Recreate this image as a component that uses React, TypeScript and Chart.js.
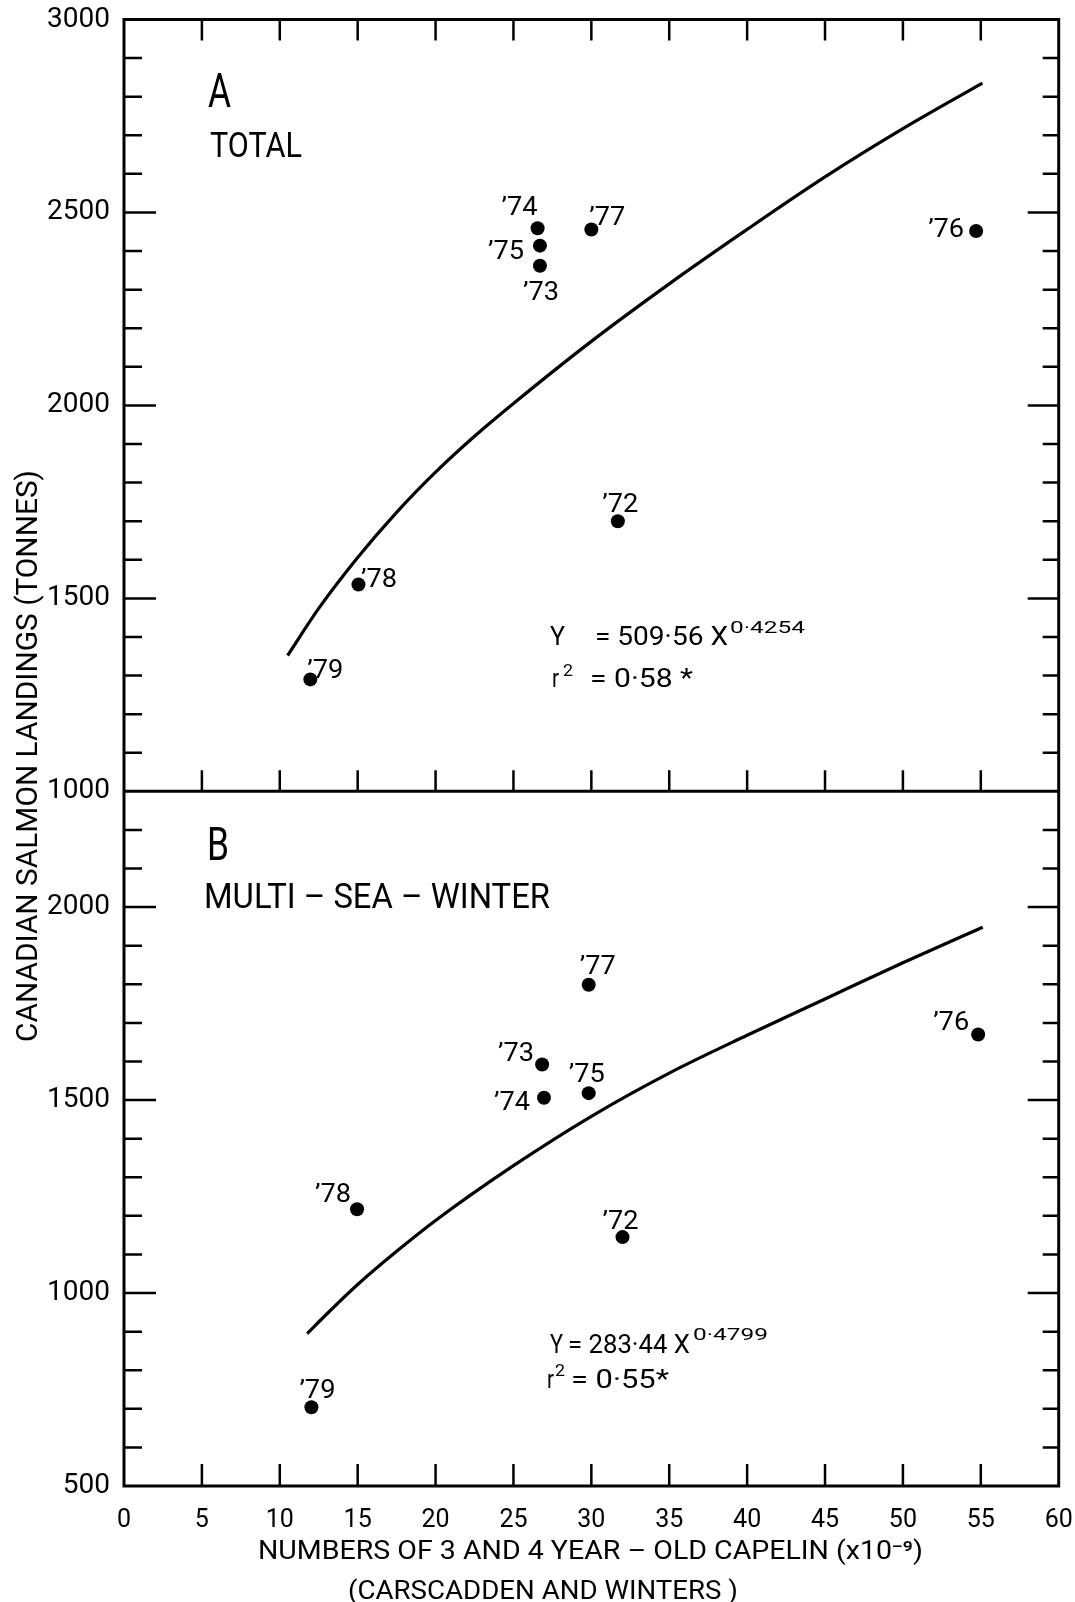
import React, { useEffect, useRef } from 'react';
import { Chart, registerables } from 'chart.js';

Chart.register(...registerables);

// ---------- data ----------
const YEARS = ['’72', '’73', '’74', '’75', '’76', '’77', '’78', '’79'];

// Panel A: total landings
const CAPELIN_A = [31.7, 26.7, 26.55, 26.7, 54.7, 30.0, 15.05, 11.96];
const TOTAL_LANDINGS = [1700, 2362, 2459, 2414, 2452, 2456, 1536, 1290];

// Panel B: multi-sea-winter landings
const CAPELIN_B = [32.0, 26.84, 26.96, 29.83, 54.83, 29.83, 14.96, 12.03];
const MSW_LANDINGS = [1145, 1592, 1506, 1518, 1670, 1799, 1217, 704];

// fitted curves as drawn in the figure
const FIT_A_X = [10.5, 12.5, 15, 17.5, 20, 22.5, 25, 30, 35, 40, 45, 50, 55.1];
const FIT_A_Y = [1352, 1474, 1606, 1723, 1827, 1920, 2005, 2166, 2315, 2456, 2592, 2717, 2835];
const FIT_B_X = [11.76, 13, 15, 17.5, 20, 25, 30, 35, 40, 45, 50, 55.12];
const FIT_B_Y = [895, 945, 1022, 1108, 1188, 1330, 1458, 1570, 1668, 1762, 1856, 1948];

// axes
const X_MIN = 0;
const X_MAX = 60;
const X_TICKS = [0, 5, 10, 15, 20, 25, 30, 35, 40, 45, 50, 55, 60];
const X_INNER_TICKS = [5, 10, 15, 20, 25, 30, 35, 40, 45, 50, 55];
const A_MIN = 1000;
const A_MAX = 3000;
const A_LABELS = [1000, 1500, 2000, 2500, 3000];
const B_MIN = 500;
const B_MAX = 2300;
const B_LABELS = [500, 1000, 1500, 2000];
const MAJOR_STEP = 500;
const MINOR_STEP = 100;

// label offsets (style) [dx, dy] from the dot centre, px
const LABEL_OFF_A = [[-15.5, -9], [-17, 34], [-36, -13], [-52, 13.6], [-48, 6.5], [-2, -4], [2.5, 2.7], [-3, -1]];
const LABEL_OFF_B = [[-20, -8], [-44, -4], [-50, 12.7], [-20, -11], [-45, -4], [-9, -11], [-42, -7], [-12, -9]];

const FONT = 'Roboto, "DejaVu Sans", sans-serif';

function fitText(ctx: CanvasRenderingContext2D, text: string, x: number, y: number, size: number, width?: number, center = false) {
  ctx.font = `${size}px ${FONT}`;
  const w = ctx.measureText(text).width;
  const s = width ? width / w : 1;
  ctx.save();
  ctx.translate(x, y);
  ctx.scale(s, 1);
  ctx.textAlign = 'left';
  ctx.textBaseline = 'alphabetic';
  ctx.fillStyle = '#000';
  ctx.fillText(text, center ? -w / 2 : 0, 0);
  ctx.restore();
}

const overlay = {
  id: 'overlay',
  afterDatasetsDraw(chart: any) {
    const ctx: CanvasRenderingContext2D = chart.ctx;
    const xs = chart.scales.x;
    const yA = chart.scales.yA;
    const yB = chart.scales.yB;
    const L = xs.getPixelForValue(X_MIN);
    const R = xs.getPixelForValue(X_MAX);
    const topA = yA.getPixelForValue(A_MAX);
    const botA = yA.getPixelForValue(A_MIN);
    const botB = yB.getPixelForValue(B_MIN);

    ctx.save();
    ctx.strokeStyle = '#000';
    ctx.lineWidth = 3;
    ctx.lineCap = 'square';
    ctx.beginPath();
    ctx.moveTo(L, topA);
    ctx.lineTo(R, topA);
    ctx.lineTo(R, botB);
    ctx.lineTo(L, botB);
    ctx.closePath();
    ctx.moveTo(L, botA);
    ctx.lineTo(R, botA);
    ctx.stroke();

    ctx.lineWidth = 2.5;
    ctx.lineCap = 'butt';
    ctx.beginPath();
    for (const v of X_INNER_TICKS) {
      const px = xs.getPixelForValue(v);
      ctx.moveTo(px, topA);
      ctx.lineTo(px, topA + 21);
      ctx.moveTo(px, botA);
      ctx.lineTo(px, botA - 21);
      ctx.moveTo(px, botB);
      ctx.lineTo(px, botB - 22);
    }
    const yTicks = (scale: any, lo: number, hi: number) => {
      for (let v = lo + MINOR_STEP; v < hi; v += MINOR_STEP) {
        const major = v % MAJOR_STEP === 0;
        const py = scale.getPixelForValue(v);
        ctx.moveTo(L, py);
        ctx.lineTo(L + (major ? 32 : 18), py);
        ctx.moveTo(R, py);
        ctx.lineTo(R - (major ? 31 : 16), py);
      }
    };
    yTicks(yA, A_MIN, A_MAX);
    yTicks(yB, B_MIN, B_MAX);
    ctx.stroke();

    // point labels
    const labels = (scale: any, xsArr: number[], ysArr: number[], offs: number[][]) => {
      YEARS.forEach((t, i) => {
        const px = xs.getPixelForValue(xsArr[i]);
        const py = scale.getPixelForValue(ysArr[i]);
        fitText(ctx, t, px + offs[i][0], py + offs[i][1], 25, 36);
      });
    };
    labels(yA, CAPELIN_A, TOTAL_LANDINGS, LABEL_OFF_A);
    labels(yB, CAPELIN_B, MSW_LANDINGS, LABEL_OFF_B);

    // panel titles
    fitText(ctx, 'A', 208, 107, 48, 23);
    fitText(ctx, 'TOTAL', 210, 157, 35, 92);
    fitText(ctx, 'B', 207, 860, 46, 22);
    fitText(ctx, 'MULTI – SEA – WINTER', 204, 908, 35, 346);

    // equations
    fitText(ctx, 'Y', 550, 645, 26, 15);
    fitText(ctx, '= 509·56 X', 595, 645, 26, 133);
    fitText(ctx, '0·4254', 730, 633, 17, 75);
    fitText(ctx, 'r', 552, 687, 26, 7);
    fitText(ctx, '2', 563, 676, 17, 10);
    fitText(ctx, '= 0·58 *', 590, 687, 26, 103);

    fitText(ctx, 'Y', 550, 1353, 26, 13);
    fitText(ctx, '= 283·44 X', 568, 1353, 26, 122);
    fitText(ctx, '0·4799', 693, 1340, 17, 75);
    fitText(ctx, 'r', 547, 1388, 26, 7);
    fitText(ctx, '2', 555, 1376, 17, 10);
    fitText(ctx, '= 0·55*', 571, 1388, 26, 98);

    // axis titles
    fitText(ctx, 'NUMBERS OF 3 AND 4 YEAR – OLD CAPELIN (x10⁻⁹)', 258, 1559, 26, 665);
    fitText(ctx, '(CARSCADDEN AND WINTERS )', 348, 1599, 26, 390);
    ctx.save();
    ctx.translate(26, 756);
    ctx.rotate(-Math.PI / 2);
    fitText(ctx, 'CANADIAN SALMON LANDINGS (TONNES)', 0, 11, 30, 572, true);
    ctx.restore();

    ctx.restore();
  },
};

export default function App() {
  const ref = useRef<HTMLCanvasElement | null>(null);

  useEffect(() => {
    if (!ref.current) return;
    const pts = (xa: number[], ya: number[]) => xa.map((x, i) => ({ x, y: ya[i] }));
    const tickFont = { family: FONT, size: 28 };
    const yScale = (min: number, max: number, labels: number[], weight: number) => ({
      type: 'linear',
      position: 'left',
      stack: 'panels',
      stackWeight: max - min,
      weight,
      min,
      max,
      grid: { display: false, drawTicks: false },
      border: { display: false },
      ticks: { autoSkip: false, color: '#000', font: tickFont, padding: 14, callback: (v: any) => String(v) },
      afterBuildTicks: (s: any) => { s.ticks = labels.map((v) => ({ value: v })); },
      afterFit: (s: any) => { s.width = 80; s.paddingTop = 0; s.paddingBottom = 0; },
    });
    const chart = new Chart(ref.current, {
      type: 'scatter',
      data: {
        datasets: [
          {
            label: 'Total',
            data: pts(CAPELIN_A, TOTAL_LANDINGS),
            yAxisID: 'yA',
            pointRadius: 7,
            pointBackgroundColor: '#000',
            pointBorderWidth: 0,
            showLine: false,
          },
          {
            label: 'Total fit',
            data: pts(FIT_A_X, FIT_A_Y),
            yAxisID: 'yA',
            showLine: true,
            pointRadius: 0,
            borderColor: '#000',
            borderWidth: 3.2,
            cubicInterpolationMode: 'monotone',
          },
          {
            label: 'Multi-sea-winter',
            data: pts(CAPELIN_B, MSW_LANDINGS),
            yAxisID: 'yB',
            pointRadius: 7,
            pointBackgroundColor: '#000',
            pointBorderWidth: 0,
            showLine: false,
          },
          {
            label: 'MSW fit',
            data: pts(FIT_B_X, FIT_B_Y),
            yAxisID: 'yB',
            showLine: true,
            pointRadius: 0,
            borderColor: '#000',
            borderWidth: 3.2,
            cubicInterpolationMode: 'monotone',
          },
        ],
      } as any,
      options: {
        animation: false,
        responsive: false,
        devicePixelRatio: 1,
        layout: { padding: { left: 44, right: 16.3, top: 19.5, bottom: 0 } },
        plugins: { legend: { display: false }, tooltip: { enabled: false } },
        scales: {
          x: {
            type: 'linear',
            position: 'bottom',
            min: X_MIN,
            max: X_MAX,
            grid: { display: false, drawTicks: false },
            border: { display: false },
            ticks: { autoSkip: false, maxRotation: 0, color: '#000', font: { family: FONT, size: 25 }, padding: 20, callback: (v: any) => String(v) },
            afterBuildTicks: (s: any) => { s.ticks = X_TICKS.map((v) => ({ value: v })); },
            afterFit: (s: any) => { s.height = 116; s.paddingLeft = 0; s.paddingRight = 0; },
          },
          yA: yScale(A_MIN, A_MAX, A_LABELS, 2),
          yB: yScale(B_MIN, B_MAX, B_LABELS, 1),
        },
      } as any,
      plugins: [overlay],
    });
    return () => chart.destroy();
  }, []);

  return (
    <div style={{ position: 'absolute', left: 0, top: 0, width: 1075, height: 1602, background: '#fff' }}>
      <canvas ref={ref} width={1075} height={1602} style={{ width: 1075, height: 1602, display: 'block' }} />
    </div>
  );
}
